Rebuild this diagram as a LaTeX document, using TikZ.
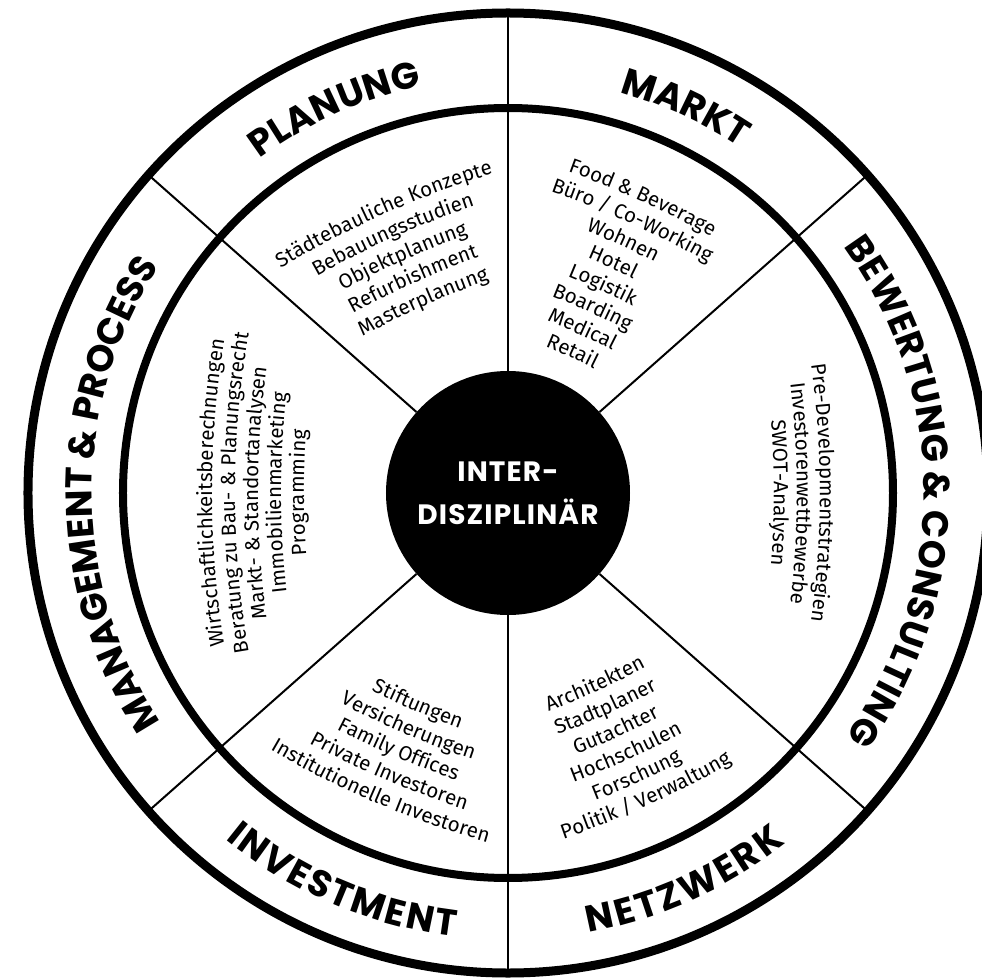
\documentclass[tikz,border=0pt]{standalone}
\usepackage{fontspec}
\usetikzlibrary{decorations.text}

\newfontfamily\titlefont{Poppins}
\newfontfamily\hubfamily{Poppins}[LetterSpace=4]
\newfontfamily\bodyfont{Fira Sans}

\newcommand\titletxt{\titlefont\bfseries\fontsize{37}{37}\selectfont}
\newcommand\hubtxt{\hubfamily\bfseries\fontsize{28}{43}\selectfont}
\newcommand\bodytxt{\bodyfont\fontsize{20.5}{23}\selectfont}

% one bent line of a text block: centre of the bend, radius, angle, text
\newcommand\bentcw[4]{\path[decorate, decoration={text along path, text align=center,
    text={|\bodytxt|#4}}] (#1) ++(#3+35:#2) arc[start angle=#3+35, end angle=#3-35, radius=#2];}
\newcommand\bentccw[4]{\path[decorate, decoration={text along path, text align=center,
    text={|\bodytxt|#4}}] (#1) ++(#3-35:#2) arc[start angle=#3-35, end angle=#3+35, radius=#2];}

\begin{document}
\begin{tikzpicture}[
    x = 1pt, y = 1pt,
    spoke/.style = {draw, line width = 2},
    ring/.style = {draw, line width = #1},
    hub/.style = {circle, fill = black, minimum size = 244, inner sep = 0pt,
      text = white, align = center, font = \hubtxt},
    ringtitle/.style = {decorate, decoration = {text along path,
        text align = fit to path, text = {|\titletxt|#1}}},
    ]

    \useasboundingbox (-508, -484) rectangle (474, 493);

    % centre disc
    \node[hub] (hub) at (0, 0) {INTER-\\DISZIPLINÄR};

    % spokes between the six fields
    \foreach \a [count = \i] in {41.5, 90, 138.5, 221.5, 270, 318.5}{
        \coordinate (rim\i) at (\a:480);
        \draw[spoke] (hub) -- (rim\i);
    }

    % the two rings
    \draw[ring = 9] (hub.center) circle[radius = 480];
    \draw[ring = 8] (hub.center) circle[radius = 385];

    % field titles, between the rings
    \path[ringtitle = {PLANUNG}] (126.6:416) arc[start angle = 126.6, end angle = 102, radius = 416];
    \path[ringtitle = {MARKT}] (74.4:416) arc[start angle = 74.4, end angle = 56.3, radius = 416];
    \path[ringtitle = {BEWERTUNG {\&} CONSULTING}] (36.3:416) arc[start angle = 36.3, end angle = -35.8, radius = 416];
    \path[ringtitle = {MANAGEMENT {\&} PROCESS}] (213.5:416) arc[start angle = 213.5, end angle = 147.3, radius = 416];
    \path[ringtitle = {INVESTMENT}] (230.8:447) arc[start angle = 230.8, end angle = 263.2, radius = 447];
    \path[ringtitle = {NETZWERK}] (280.4:447) arc[start angle = 280.4, end angle = 308.4, radius = 447];

    % Planung
    \coordinate (wPlan) at (294:645);
    \bentcw{wPlan}{950}{114}{Städtebauliche Konzepte}
    \bentcw{wPlan}{925}{114}{Bebauungsstudien}
    \bentcw{wPlan}{900}{114}{Objektplanung}
    \bentcw{wPlan}{875}{114}{Refurbishment}
    \bentcw{wPlan}{850}{114}{Masterplanung}

    % Markt
    \coordinate (wMarkt) at (245.5:665);
    \bentcw{wMarkt}{985.75}{65.5}{Food {\&} Beverage}
    \bentcw{wMarkt}{961.25}{65.5}{Büro / Co-Working}
    \bentcw{wMarkt}{936.75}{65.5}{Wohnen}
    \bentcw{wMarkt}{912.25}{65.5}{Hotel}
    \bentcw{wMarkt}{887.75}{65.5}{Logistik}
    \bentcw{wMarkt}{863.25}{65.5}{Boarding}
    \bentcw{wMarkt}{838.75}{65.5}{Medical}
    \bentcw{wMarkt}{814.25}{65.5}{Retail}

    % Bewertung & Consulting
    \coordinate (wBew) at (180:611);
    \bentcw{wBew}{923}{0}{Pre-Developmentstrategien}
    \bentcw{wBew}{900}{0}{Investorenwettbewerbe}
    \bentcw{wBew}{877}{0}{SWOT-Analysen}

    % Management & Process
    \coordinate (wMan) at (0:650);
    \bentcw{wMan}{946}{180}{Wirtschaftlichkeitsberechnungen}
    \bentcw{wMan}{923}{180}{Beratung zu Bau- {\&} Planungsrecht}
    \bentcw{wMan}{900}{180}{Markt- {\&} Standortanalysen}
    \bentcw{wMan}{877}{180}{Immobilienmarketing}
    \bentcw{wMan}{854}{180}{Programming}

    % Investment
    \coordinate (wInv) at (66.9:613);
    \bentccw{wInv}{850}{246.9}{Stiftungen}
    \bentccw{wInv}{875}{246.9}{Versicherungen}
    \bentccw{wInv}{900}{246.9}{Family Offices}
    \bentccw{wInv}{925}{246.9}{Private Investoren}
    \bentccw{wInv}{950}{246.9}{Institutionelle Investoren}

    % Netzwerk
    \coordinate (wNetz) at (114.4:620);
    \bentccw{wNetz}{837.5}{294.4}{Architekten}
    \bentccw{wNetz}{862.5}{294.4}{Stadtplaner}
    \bentccw{wNetz}{887.5}{294.4}{Gutachter}
    \bentccw{wNetz}{912.5}{294.4}{Hochschulen}
    \bentccw{wNetz}{937.5}{294.4}{Forschung}
    \bentccw{wNetz}{962.5}{294.4}{Politik / Verwaltung}

\end{tikzpicture}
\end{document}
